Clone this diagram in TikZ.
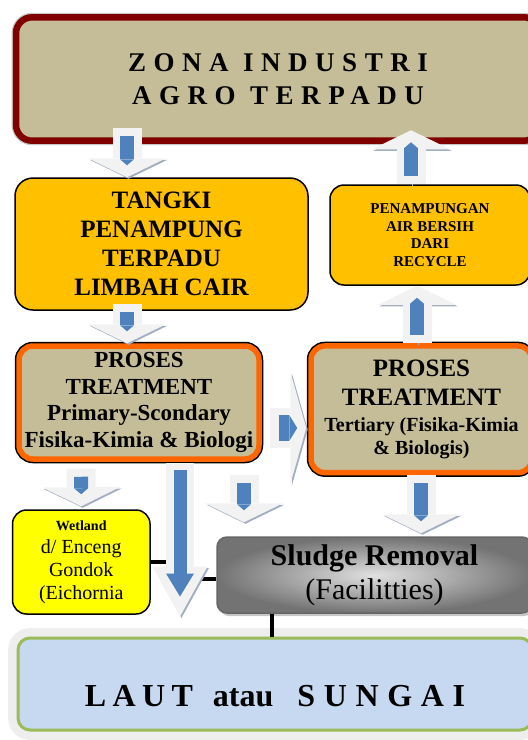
\documentclass[tikz,border=0pt]{standalone}
\usepackage{fontspec}
\setmainfont{Liberation Serif}
\usetikzlibrary{arrows.meta,shadows}
\definecolor{zoneFill}{HTML}{C4BD97}
\definecolor{zoneDraw}{HTML}{800000}
\definecolor{tankFill}{HTML}{FFC000}
\definecolor{procDraw}{HTML}{FF6600}
\definecolor{wetFill}{HTML}{FFFF00}
\definecolor{seaFill}{HTML}{C6D9F1}
\definecolor{seaDraw}{HTML}{9BBB59}
\definecolor{seaRim}{HTML}{EEEEEE}
\definecolor{arrBody}{HTML}{F2F2F2}
\definecolor{arrShade}{HTML}{A3AEC2}
\definecolor{arrBlue}{HTML}{4F81BD}
\tikzset{
  box/.style   ={draw, align=center, inner sep=0pt, line width=1.5pt},
  zone/.style  ={box, rounded corners=16pt, fill=zoneFill, draw=zoneDraw, line width=6.5pt,
                 preaction={draw=black!22, line width=9pt},
                 font=\bfseries\fontsize{27}{33.5}\selectfont\addfontfeatures{LetterSpace=28}},
  tank/.style  ={box, rounded corners=18pt, fill=tankFill, font=\bfseries\fontsize{25}{29}\selectfont},
  clean/.style ={box, rounded corners=14pt, fill=tankFill, font=\bfseries\fontsize{15}{17.5}\selectfont},
  proc/.style  ={box, rounded corners=14pt, fill=zoneFill, draw=procDraw, line width=5.5pt,
                 preaction={draw=black, line width=8.5pt}},
  wet/.style   ={box, rounded corners=14pt, fill=wetFill, font=\fontsize{20}{23}\selectfont},
  sludge/.style={box, rounded corners=10pt, draw=black!60, inner color=black!12, outer color=black!55,
                 drop shadow={shadow xshift=2pt, shadow yshift=-3pt, opacity=0.45},
                 font=\fontsize{30}{34}\selectfont},
  sea/.style   ={draw=seaDraw, fill=seaFill, inner sep=0pt, rounded corners=12pt, line width=3pt,
                 preaction={draw=seaRim, line width=20pt},
                 font=\bfseries\fontsize{32}{38}\selectfont},
  link/.style  ={line width=4pt},
  barr/.style  ={line width=29pt, draw=arrBody, -{Triangle[length=19pt, width=78pt, line width=0pt]},
                 preaction={draw=arrShade, transform canvas={xshift=1.5pt, yshift=-1.5pt}},
                 postaction={draw=arrBlue, line width=14pt, -{Triangle[length=6pt, width=14pt, line width=0pt]},
                             shorten <=8pt, shorten >=12pt}},
  rarr/.style  ={line width=40pt, draw=arrBody, -{Triangle[length=16pt, width=113pt, line width=0pt]},
                 preaction={draw=arrShade, transform canvas={xshift=1.5pt, yshift=-1.5pt}},
                 postaction={draw=arrBlue, line width=26pt, -{Triangle[length=8pt, width=26pt, line width=0pt]},
                             shorten <=9pt, shorten >=9pt}},
  larr/.style  ={line width=28pt, draw=arrBody, -{Triangle[length=50pt, width=55pt, line width=0pt]},
                 preaction={draw=arrShade, transform canvas={xshift=1.5pt, yshift=-1.5pt}},
                 postaction={draw=arrBlue, line width=13pt, -{Triangle[length=23pt, width=28pt, line width=0pt]},
                             shorten <=7pt, shorten >=20pt}},
}
\newcommand{\tert}{\fontsize{20}{24}\selectfont}
\begin{document}
\begin{tikzpicture}[x=1pt, y=-1pt]
  \path[use as bounding box] (0,0) rectangle (528,740);
  \clip (0,0) rectangle (528,740);
  % industrial zone
  \node[zone, minimum width=524pt, minimum height=123.4pt] (zona) at (278,79) {ZONA INDUSTRI\\AGRO TERPADU};
  % tanks
  \node[tank,  minimum width=293pt, minimum height=132pt] (tank)  at (161.5,244) {TANGKI\\PENAMPUNG\\TERPADU\\LIMBAH CAIR};
  \node[clean, minimum width=200pt, minimum height=100pt] (clean) at (430,235)   {PENAMPUNGAN\\AIR BERSIH\\DARI\\RECYCLE};
  % treatment
  \node[proc, font=\bfseries\fontsize{23}{26.5}\selectfont, minimum width=240pt, minimum height=113pt] (procL) at (139,402.5)
        {PROSES\\TREATMENT\\Primary-Scondary\\Fisika-Kimia \& Biologi};
  \node[proc, font=\bfseries\fontsize{25}{29}\selectfont, minimum width=221pt, minimum height=126.7pt] (procR) at (421.5,409.3)
        {PROSES\\TREATMENT\\[-3pt]\tert Tertiary (Fisika-Kimia\\[-6pt]\tert \& Biologis)};
  % outlets
  \node[wet, minimum width=137.5pt, minimum height=104pt] (wet) at (81.25,562)
        {{\bfseries\fontsize{14}{23}\selectfont Wetland}\\d/ Enceng\\Gondok\\(Eichornia};
  \node[sludge, minimum width=315pt, minimum height=76pt] (sludge) at (374.5,575)
        {{\bfseries Sludge Removal}\\(Facilitties)};
  \node[sea, minimum width=514pt, text height=68.7pt, text depth=23.3pt] (laut) at (275,684)
        {{\addfontfeatures{LetterSpace=20}LAUT}\hspace{20pt}atau\hspace{24pt}{\addfontfeatures{LetterSpace=27}SUNGAI}};

  % joints
  \coordinate (wj) at (168,562);
  \coordinate (sj) at (198,579);
  \draw[link] (wet.east) -- (wj);
  \draw[link] ([yshift=-4pt]sludge.west) -- (sj);
  \draw[link] ([xshift=56pt]sludge.south west) -- ([xshift=56pt]sludge.south west |- laut.north);

  % flow
  \draw[barr] ([xshift=-151pt,yshift=15.7pt]zona.south) -- ([xshift=-34.5pt]tank.north);
  \draw[barr] ([xshift=-34.5pt,yshift=7pt]tank.south) -- ([xshift=-12pt]procL.north);
  \draw[barr] ([xshift=-4.5pt]procR.north) -- ([xshift=-13pt]clean.south);
  \draw[barr] ([xshift=-19pt]clean.north) -- ([xshift=133pt,yshift=13.7pt]zona.south);
  \draw[rarr] ([xshift=8pt,yshift=-25.5pt]procL.east) -- ([xshift=-2pt,yshift=-18.7pt]procR.west);
  \draw[barr] ([xshift=-58pt,yshift=-7pt]procL.south) -- ([yshift=3pt]wet.north);
  \draw[larr] ([xshift=41pt,yshift=-1pt]procL.south) -- ([xshift=-95pt,yshift=20pt]laut.north);
  \draw[barr] ([xshift=105pt,yshift=-13pt]procL.south) -- ([xshift=-130.5pt,yshift=14pt]sludge.north);
  \draw[barr] ([xshift=-0.5pt]procR.south) -- ([xshift=46.5pt,yshift=3pt]sludge.north);
\end{tikzpicture}
\end{document}
